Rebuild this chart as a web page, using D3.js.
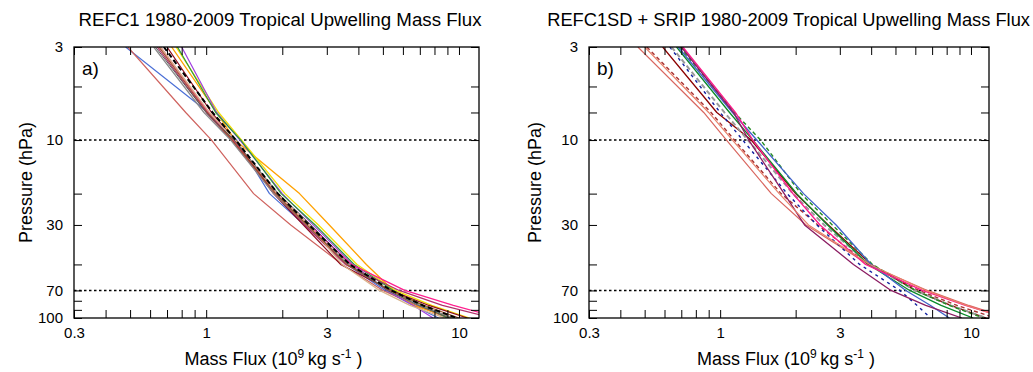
<!DOCTYPE html>
<html>
<head>
<meta charset="utf-8">
<script src="https://cdn.jsdelivr.net/npm/d3@7"></script>
<style>
  body { margin: 0; background: #fff; }
  svg { display: block; }
  text { font-family: "Liberation Sans", Arial, Helvetica, sans-serif; fill: #000; }
</style>
</head>
<body>
<svg id="chart" width="1033" height="372"></svg>
<script>
// ---------------- DATA ----------------
const pressureLevels = [3, 7, 10, 20, 30, 50, 70, 85, 100];           // hPa
const xTickValues = [0.3, 0.4, 0.5, 0.6, 0.7, 0.8, 0.9, 1, 2, 3, 4, 5, 6, 7, 8, 9, 10];
const xTickLabels = [0.3, 1, 3, 10];
const yTickValues = [3, 5, 7, 10, 20, 30, 50, 70, 80, 90, 100];
const yTickLabels = [3, 10, 30, 70, 100];
const refLines = [10, 70];

const titleA = "REFC1 1980-2009 Tropical Upwelling Mass Flux";
const titleB = "REFC1SD + SRIP 1980-2009 Tropical Upwelling Mass Flux";

// Panel a: REFC1 models (mass flux, 10^9 kg/s, at pressureLevels)
const refc1Names = ["CMAM", "LMDZrepro", "ULAQ-CCM", "SOCOL3", "CNRM-CM5-3", "GEOSCCM",
                    "WACCM", "EMAC-L90MA", "MRI-ESM1r1", "EMAC-L47MA", "NIWA-UKCA", "UMSLIMCAT", "CCSRNIES-MIROC3.2", "MMM"];
const a_CMAM      = [0.48, 1.02, 1.32, 1.78, 2.45, 3.60, 5.10, 6.60, 8.30];
const a_LMDZ      = [0.49, 0.83, 1.05, 1.54, 2.16, 3.45, 5.00, 6.80, 9.00];
const a_ULAQ      = [0.73, 1.10, 1.30, 2.34, 3.07, 4.30, 5.50, 6.60, 9.40];
const a_SOCOL     = [0.76, 1.12, 1.38, 2.05, 2.78, 3.95, 5.60, 7.80, 11.0];
const a_CNRM      = [0.80, 1.10, 1.36, 2.00, 2.65, 3.80, 5.20, 6.60, 7.90];
const a_GEOS      = [0.77, 1.09, 1.37, 1.98, 2.70, 3.85, 5.50, 7.20, 9.00];
const a_WACCM     = [0.66, 1.02, 1.28, 1.90, 2.55, 3.75, 6.10, 9.50, 14.5];
const a_EMAC90    = [0.64, 1.00, 1.26, 1.85, 2.45, 3.55, 5.80, 8.60, 13.5];
const a_MRI       = [0.70, 1.05, 1.30, 1.85, 2.42, 3.40, 5.40, 7.60, 10.8];
const a_EMAC47    = [0.62, 0.98, 1.25, 1.85, 2.50, 3.65, 5.30, 7.00, 9.50];
const a_NIWA      = [0.66, 1.03, 1.30, 1.90, 2.55, 3.45, 4.85, 6.40, 8.80];
const a_UMSLIMCAT = [0.65, 1.01, 1.27, 1.88, 2.50, 3.60, 5.30, 7.30, 10.0];
const a_MIROC     = [0.63, 1.00, 1.29, 1.93, 2.60, 3.70, 5.20, 6.90, 9.20];
const a_MMM       = [0.68, 1.06, 1.31, 1.92, 2.55, 3.70, 5.40, 7.20, 9.80];
const refc1Values = [a_CMAM, a_LMDZ, a_ULAQ, a_SOCOL, a_CNRM, a_GEOS, a_WACCM, a_EMAC90,
                     a_MRI, a_EMAC47, a_NIWA, a_UMSLIMCAT, a_MIROC, a_MMM];

// Panel b: REFC1SD models + reanalyses
const refc1sdNames = ["ERA-Interim", "JRA-55", "MERRA", "MERRA-2", "CFSR", "CMAM-SD",
                      "EMAC-SD", "GEOSCCM-SD", "WACCM-SD", "MRI-SD", "NIWA-SD"];
const b_ERAI   = [0.47, 0.86, 1.06, 1.60, 2.20, 3.90, 6.70, 9.80, 14.0];
const b_JRA    = [0.51, 0.92, 1.14, 1.75, 2.45, 3.90, 6.20, 8.80, 12.5];
const b_MERRA  = [0.59, 0.97, 1.33, 2.00, 2.70, 4.00, 6.00, 8.30, 11.5];
const b_MERRA2 = [0.63, 1.00, 1.23, 1.85, 2.43, 3.60, 5.20, 6.10, 6.90];
const b_CFSR   = [0.64, 1.04, 1.29, 1.95, 2.60, 3.95, 6.00, 8.30, 11.5];
const b_CMAM   = [0.67, 1.09, 1.35, 2.02, 2.68, 3.90, 5.70, 7.60, 10.2];
const b_EMAC   = [0.69, 1.14, 1.45, 2.10, 2.80, 4.05, 6.00, 8.20, 11.2];
const b_GEOS   = [0.68, 1.12, 1.40, 2.15, 2.90, 4.00, 5.50, 6.90, 8.20];
const b_WACCM  = [0.71, 1.15, 1.35, 1.95, 2.50, 3.80, 6.40, 9.50, 14.0];
const b_MRI    = [0.70, 1.13, 1.30, 1.80, 2.17, 3.40, 4.80, 6.60, 9.20];
const b_NIWA   = [0.50, 0.90, 1.12, 1.72, 2.25, 3.95, 6.60, 9.60, 13.8];
const refc1sdValues = [b_ERAI, b_JRA, b_MERRA, b_MERRA2, b_CFSR, b_CMAM, b_EMAC, b_GEOS,
                       b_WACCM, b_MRI, b_NIWA];

// ---------------- STYLES ----------------
const stylesA = [
  {c: "#4b6fd6", w: 1.2}, {c: "#cf625e", w: 1.2}, {c: "#ffa200", w: 1.3}, {c: "#f2e200", w: 1.3},
  {c: "#a040e0", w: 1.2}, {c: "#2e9b3e", w: 1.2}, {c: "#ff1f8f", w: 1.3}, {c: "#b0306a", w: 1.2},
  {c: "#8e0a1e", w: 1.2}, {c: "#8c8c8c", w: 1.3}, {c: "#d9b48c", w: 1.3}, {c: "#a0522d", w: 1.2},
  {c: "#5a5a5a", w: 1.0}, {c: "#000000", w: 2.0, d: "5,3"}
];
const stylesB = [
  {c: "#d9665f", w: 1.2}, {c: "#a83232", w: 1.4, d: "4,3"}, {c: "#8b0000", w: 1.3},
  {c: "#1020a0", w: 1.4, d: "3,4"}, {c: "#9a9a9a", w: 2.0, d: "5,3"}, {c: "#0a8a2a", w: 1.3},
  {c: "#228b22", w: 1.4, d: "4,3"}, {c: "#3f62c8", w: 1.3}, {c: "#ff1a8c", w: 1.4},
  {c: "#8b1c62", w: 1.3}, {c: "#e8806a", w: 1.2}
];

// ---------------- DRAW ----------------
const svg = d3.select("#chart");
const FONT_TICK = 15, FONT_LABEL = 18;

function drawPanel(cfg) {
  const x = d3.scaleLog().domain(cfg.xDomain).range([cfg.x0, cfg.x1]);
  const y = d3.scaleLog().domain([3, 100]).range([cfg.y0, cfg.y1]);
  const g = svg.append("g");
  const clipId = "clip-" + cfg.id;
  svg.append("defs").append("clipPath").attr("id", clipId)
    .append("rect").attr("x", cfg.x0).attr("y", cfg.y0)
    .attr("width", cfg.x1 - cfg.x0).attr("height", cfg.y1 - cfg.y0);

  // reference dotted lines
  g.selectAll(".ref").data(refLines).join("line")
    .attr("x1", cfg.x0).attr("x2", cfg.x1)
    .attr("y1", d => y(d)).attr("y2", d => y(d))
    .attr("stroke", "#000").attr("stroke-width", 1.6).attr("stroke-dasharray", "2.5,2.5");

  const line = d3.line().x(d => x(d[0])).y(d => y(d[1]));
  const lines = g.append("g").attr("clip-path", `url(#${clipId})`);
  cfg.values.forEach((vals, i) => {
    const st = cfg.styles[i];
    lines.append("path")
      .datum(vals.map((v, k) => [v, pressureLevels[k]]))
      .attr("d", line).attr("fill", "none")
      .attr("stroke", st.c).attr("stroke-width", st.w)
      .attr("stroke-dasharray", st.d || null)
      .attr("stroke-linejoin", "round");
  });

  const fmt = d => (xTickLabels.includes(d) ? String(d) : "");
  const fmtY = d => (yTickLabels.includes(d) ? String(d) : "");

  const axB = g.append("g").attr("transform", `translate(0,${cfg.y1})`)
    .call(d3.axisBottom(x).tickValues(xTickValues).tickFormat(fmt).tickSizeInner(-8).tickSizeOuter(0).tickPadding(9));
  const axT = g.append("g").attr("transform", `translate(0,${cfg.y0})`)
    .call(d3.axisTop(x).tickValues(xTickValues).tickFormat("").tickSizeInner(-8).tickSizeOuter(0));
  const axL = g.append("g").attr("transform", `translate(${cfg.x0},0)`)
    .call(d3.axisLeft(y).tickValues(yTickValues).tickFormat(fmtY).tickSizeInner(-8).tickSizeOuter(0).tickPadding(11));
  const axR = g.append("g").attr("transform", `translate(${cfg.x1},0)`)
    .call(d3.axisRight(y).tickValues(yTickValues).tickFormat("").tickSizeInner(-8).tickSizeOuter(0));
  [axB, axT, axL, axR].forEach(a => {
    a.selectAll("path.domain").remove();
    a.selectAll("line").attr("stroke", "#000").attr("stroke-width", 1);
    a.selectAll("text").style("font-size", FONT_TICK + "px")
      .style("font-family", '"Liberation Sans", Arial, sans-serif');
  });

  // frame
  g.append("rect").attr("x", cfg.x0).attr("y", cfg.y0)
    .attr("width", cfg.x1 - cfg.x0).attr("height", cfg.y1 - cfg.y0)
    .attr("fill", "none").attr("stroke", "#000").attr("stroke-width", 1.3);

  const cx = (cfg.x0 + cfg.x1) / 2;
  // title
  g.append("text").attr("x", cfg.titleX).attr("y", 26).attr("text-anchor", cfg.titleAnchor)
    .style("font-size", cfg.titleSize + "px").text(cfg.title);
  // panel letter
  g.append("text").attr("x", cfg.x0 + 8).attr("y", 75)
    .style("font-size", "19px").text(cfg.letter);
  // x label
  const xl = g.append("text").attr("x", cx - 3).attr("y", 365).attr("text-anchor", "middle")
    .style("font-size", FONT_LABEL + "px");
  xl.append("tspan").text("Mass Flux (10");
  xl.append("tspan").attr("dy", -7).style("font-size", "12px").text("9");
  xl.append("tspan").attr("dy", 7).text("\u2009kg s");
  xl.append("tspan").attr("dy", -7).style("font-size", "12px").text("-1");
  xl.append("tspan").attr("dy", 7).text(" )");
  // y label
  g.append("text")
    .attr("transform", `translate(${cfg.x0 - cfg.yLabelOff},${(cfg.y0 + cfg.y1) / 2}) rotate(-90)`)
    .attr("text-anchor", "middle").style("font-size", FONT_LABEL + "px")
    .text("Pressure (hPa)");
}

drawPanel({id: "a", x0: 74, x1: 479, y0: 47, y1: 318, xDomain: [0.3, 12],
           titleX: 280, titleAnchor: "middle", titleSize: 18.7, yLabelOff: 42,
           values: refc1Values, styles: stylesA, title: titleA, letter: "a)"});
drawPanel({id: "b", x0: 589, x1: 989, y0: 47, y1: 318, xDomain: [0.3, 11.8],
           titleX: 1030, titleAnchor: "end", titleSize: 18.3, yLabelOff: 48,
           values: refc1sdValues, styles: stylesB, title: titleB, letter: "b)"});
</script>
</body>
</html>
